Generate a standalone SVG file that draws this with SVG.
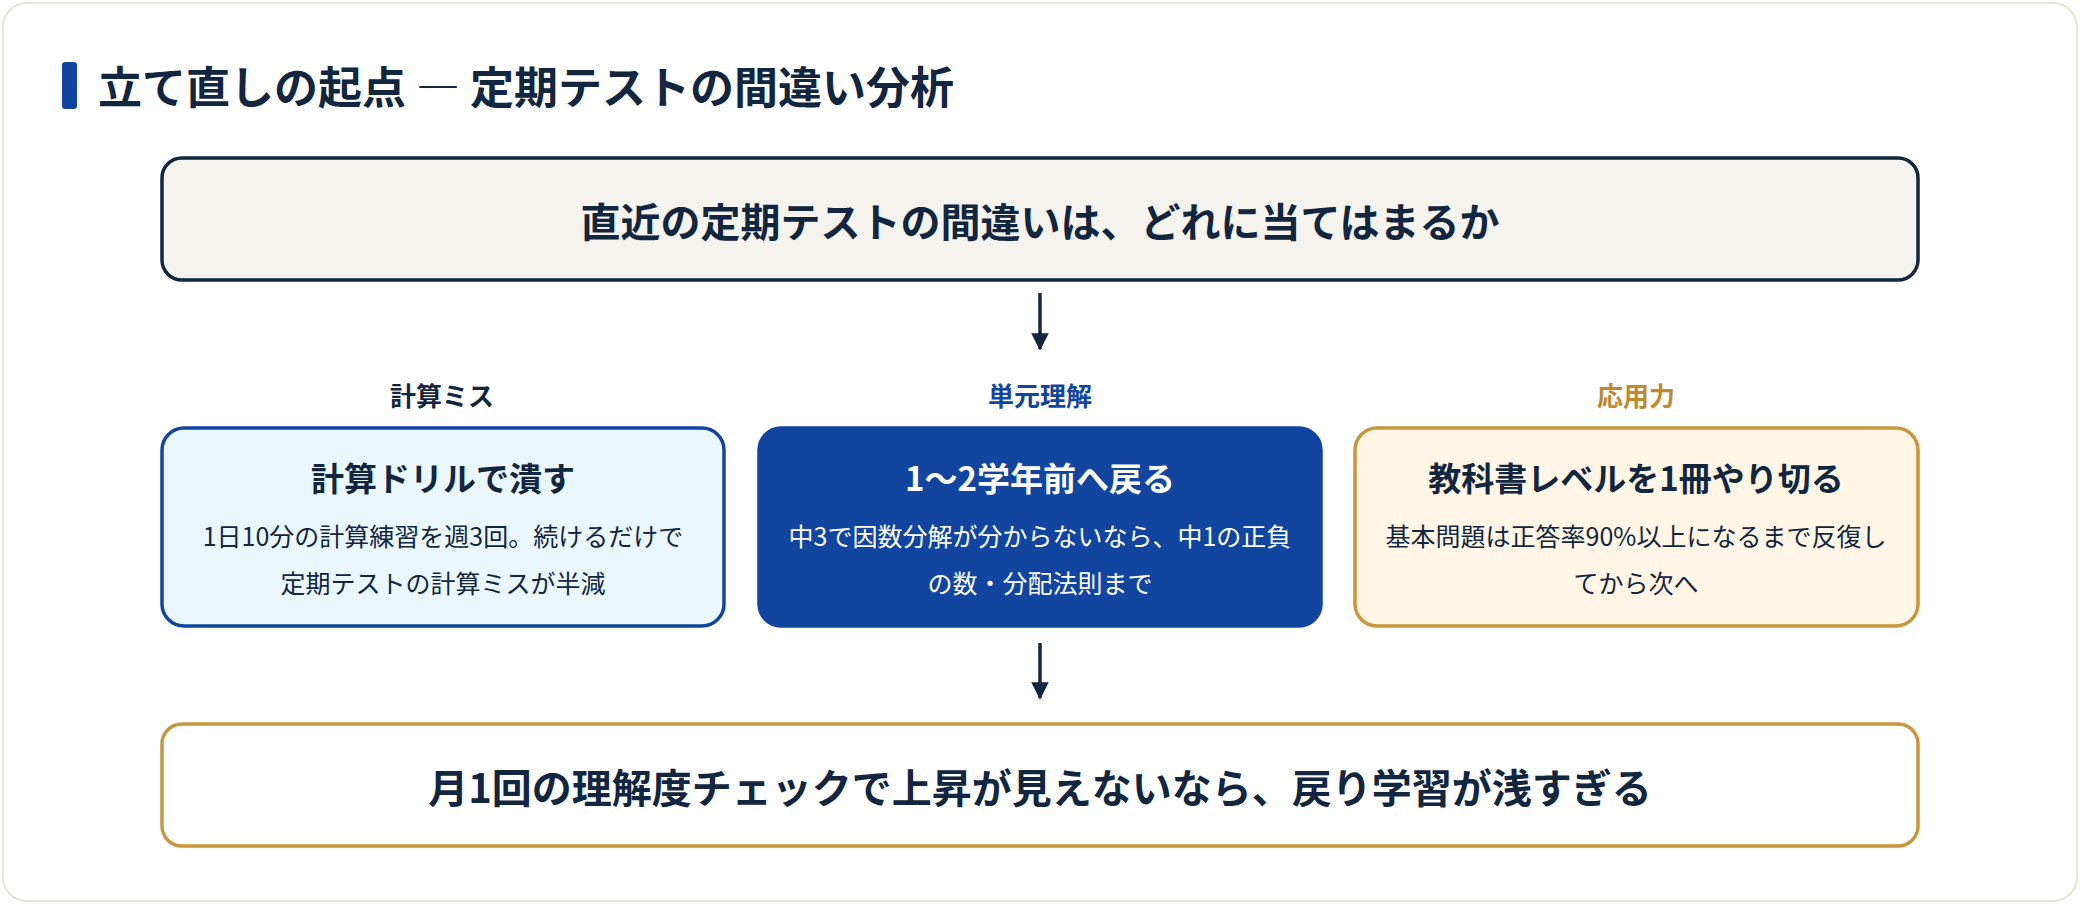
<svg xmlns="http://www.w3.org/2000/svg" width="2080" height="904" viewBox="0 0 2080 904">
<defs>
<style>
text{font-family:"Noto Sans CJK JP","Noto Sans",sans-serif;text-anchor:middle;fill:#12263f}
.b{font-weight:700}
.lab{font-size:26px;font-weight:700}
.t{font-size:33px;font-weight:700}
.d{font-size:25px}
.w{fill:#ffffff}
</style>
<marker id="ah" viewBox="0 0 10 10" refX="9" refY="5" markerWidth="5" markerHeight="5" markerUnits="strokeWidth" orient="auto"><path d="M0,0 L10,5 L0,10 z" fill="#12263f"/></marker>
</defs>
<rect x="0" y="0" width="2080" height="904" fill="#ffffff"/>
<rect x="3" y="3" width="2074" height="898" rx="24" fill="#ffffff" stroke="#e6e3d8" stroke-width="2"/>
<g id="title">
<rect x="62" y="62" width="15" height="47" rx="3" fill="#1145a0"/>
<text x="98" y="104" class="b" style="font-size:44px;text-anchor:start">立て直しの起点 ― 定期テストの間違い分析</text>
</g>
<g id="question">
<rect x="162" y="158" width="1756" height="122" rx="20" fill="#f5f3ee" stroke="#12263f" stroke-width="3.5"/>
<text x="1040" y="237" class="b" style="font-size:40px">直近の定期テストの間違いは、どれに当てはまるか</text>
</g>
<g id="calc">
<text x="442" y="406" class="lab">計算ミス</text>
<rect x="162" y="428" width="562" height="198" rx="22" fill="#eaf7fd" stroke="#1145a0" stroke-width="3.5"/>
<text x="443" y="491" class="t">計算ドリルで潰す</text>
<text x="443" y="546" class="d">1日10分の計算練習を週3回。続けるだけで</text>
<text x="443" y="593" class="d">定期テストの計算ミスが半減</text>
</g>
<g id="unit">
<text x="1040" y="406" class="lab" style="fill:#1145a0">単元理解</text>
<rect x="759" y="428" width="562" height="198" rx="22" fill="#1145a0" stroke="#1145a0" stroke-width="3.5"/>
<text x="1040" y="491" class="t w">1〜2学年前へ戻る</text>
<text x="1040" y="546" class="d w">中3で因数分解が分からないなら、中1の正負</text>
<text x="1040" y="593" class="d w">の数・分配法則まで</text>
</g>
<g id="apply">
<text x="1636" y="406" class="lab" style="fill:#c0892f">応用力</text>
<rect x="1355" y="428" width="563" height="198" rx="22" fill="#fff6e6" stroke="#c8963e" stroke-width="3.5"/>
<text x="1636" y="491" class="t">教科書レベルを1冊やり切る</text>
<text x="1636" y="546" class="d">基本問題は正答率90%以上になるまで反復し</text>
<text x="1636" y="593" class="d">てから次へ</text>
</g>
<g id="check">
<rect x="162" y="724" width="1756" height="122" rx="20" fill="#ffffff" stroke="#c8963e" stroke-width="3.5"/>
<text x="1040" y="803" class="b" style="font-size:40px">月1回の理解度チェックで上昇が見えないなら、戻り学習が浅すぎる</text>
</g>
<g id="connectors" stroke="#12263f" stroke-width="3.5" fill="none">
<line x1="1040" y1="293" x2="1040" y2="349" marker-end="url(#ah)"/>
<line x1="1040" y1="643" x2="1040" y2="698" marker-end="url(#ah)"/>
</g>
</svg>
